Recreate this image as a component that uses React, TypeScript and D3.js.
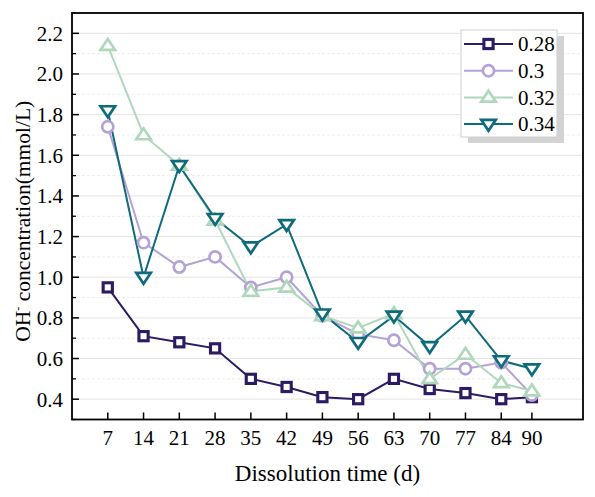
import React from 'react';
import * as d3 from 'd3';

// dissolution days
const days = [7, 14, 21, 28, 35, 42, 49, 56, 63, 70, 77, 84, 90];

const s028 = [0.95, 0.71, 0.68, 0.65, 0.5, 0.46, 0.41, 0.4, 0.5, 0.45, 0.43, 0.4, 0.41];
const s030 = [1.74, 1.17, 1.05, 1.1, 0.95, 1.0, 0.81, 0.72, 0.69, 0.55, 0.55, 0.58, 0.42];
const s032 = [2.14, 1.7, 1.55, 1.28, 0.93, 0.95, 0.81, 0.75, 0.82, 0.5, 0.62, 0.48, 0.44];
const s034 = [1.82, 1.0, 1.55, 1.29, 1.15, 1.26, 0.82, 0.68, 0.81, 0.66, 0.81, 0.59, 0.55];

const seriesNames = ['0.28', '0.3', '0.32', '0.34'];
const seriesColors = ['#2c1a62', '#b3a2d5', '#afd7bc', '#0f6a7c'];
const seriesShapes = ['square', 'circle', 'triangle', 'down'];
const yTicks = [0.4, 0.6, 0.8, 1.0, 1.2, 1.4, 1.6, 1.8, 2.0, 2.2];
const yMinor = [0.3, 0.5, 0.7, 0.9, 1.1, 1.3, 1.5, 1.7, 1.9, 2.1, 2.3];

const W = 595;
const H = 497;
const margin = { top: 13, right: 12, bottom: 77.5, left: 72 };
const serif = { fontFamily: "'Liberation Serif', 'Times New Roman', Times, serif" };

function Marker({ shape, x, y, color }) {
  const sw = 2.7;
  if (shape === 'square') {
    return <rect x={x - 4.6} y={y - 4.6} width={9.2} height={9.2} fill="#fff" stroke={color} strokeWidth={sw + 0.4} />;
  }
  if (shape === 'circle') {
    return <circle cx={x} cy={y} r={5.6} fill="#fff" stroke={color} strokeWidth={sw} />;
  }
  const s = 6.6;
  if (shape === 'triangle') {
    const p = `M${x},${y - s}L${x + s * 1.1},${y + s * 0.65}L${x - s * 1.1},${y + s * 0.65}Z`;
    return <path d={p} fill="#fff" stroke={color} strokeWidth={sw} strokeLinejoin="miter" />;
  }
  const p = `M${x},${y + s}L${x + s * 1.1},${y - s * 0.65}L${x - s * 1.1},${y - s * 0.65}Z`;
  return <path d={p} fill="#fff" stroke={color} strokeWidth={sw} strokeLinejoin="miter" />;
}

export default function App() {
  const iw = W - margin.left - margin.right;
  const ih = H - margin.top - margin.bottom;
  const x = d3.scaleLinear().domain([0, 100]).range([0, iw]);
  const y = d3.scaleLinear().domain([0.3, 2.3]).range([ih, 0]);
  const all = [s028, s030, s032, s034];
  const line = d3
    .line<number>()
    .x((_, i) => x(days[i]))
    .y((d) => y(d));

  // legend box
  const lx = 461 - margin.left;
  const ly = 30 - margin.top;
  const lw = 96;
  const lh = 107;

  return (
    <div style={{ position: 'absolute', left: 0, top: 0 }}>
      <svg width={W} height={H} style={{ display: 'block', background: '#fff', ...serif }}>
        <g transform={`translate(${margin.left},${margin.top})`}>
          {yMinor.map((t) => (
            <line key={'mg' + t} x1={0} x2={iw} y1={y(t)} y2={y(t)} stroke="#e9e9e9" strokeDasharray="3,2" strokeWidth={0.8} />
          ))}
          {yTicks.map((t) => (
            <line key={'g' + t} x1={0} x2={iw} y1={y(t)} y2={y(t)} stroke="#e4e4e4" strokeWidth={1} />
          ))}

          {all.map((s, k) => (
            <path key={'l' + k} d={line(s) || ''} fill="none" stroke={seriesColors[k]} strokeWidth={2} />
          ))}
          {all.map((s, k) =>
            s.map((v, i) => (
              <Marker key={`m${k}-${i}`} shape={seriesShapes[k]} x={x(days[i])} y={y(v)} color={seriesColors[k]} />
            )),
          )}

          {/* frame */}
          <rect x={0} y={0} width={iw} height={ih} fill="none" stroke="#000" strokeWidth={1.8} />

          {/* y ticks */}
          {yTicks.map((t) => (
            <g key={'yt' + t}>
              <line x1={0} x2={7} y1={y(t)} y2={y(t)} stroke="#000" strokeWidth={1.5} />
              <text x={-9} y={y(t)} dy="0.35em" textAnchor="end" style={serif} fontSize={21} fill="#000">
                {d3.format('.1f')(t)}
              </text>
            </g>
          ))}
          {yMinor.map((t) => (
            <line key={'ym' + t} x1={0} x2={4} y1={y(t)} y2={y(t)} stroke="#000" strokeWidth={1.3} />
          ))}

          {/* x ticks */}
          {days.map((d) => (
            <g key={'xt' + d}>
              <line x1={x(d)} x2={x(d)} y1={ih} y2={ih - 7} stroke="#000" strokeWidth={1.5} />
              <text x={x(d)} y={ih + 25.5} textAnchor="middle" style={serif} fontSize={21} fill="#000">
                {d}
              </text>
            </g>
          ))}

          {/* legend */}
          <rect x={lx + 7} y={ly + 6} width={lw} height={lh} fill="#d3d3d3" />
          <rect x={lx} y={ly} width={lw} height={lh} fill="#fff" stroke="#cfcfcf" strokeWidth={1} />
          {seriesNames.map((n, k) => {
            const cy = ly + 14 + k * 26.7;
            return (
              <g key={'lg' + n}>
                <line x1={lx + 3} x2={lx + 52} y1={cy} y2={cy} stroke={seriesColors[k]} strokeWidth={2} />
                <Marker shape={seriesShapes[k]} x={lx + 27.5} y={cy} color={seriesColors[k]} />
                <text x={lx + 57} y={cy} dy="0.35em" style={serif} fontSize={21} fill="#000">
                  {n}
                </text>
              </g>
            );
          })}
        </g>

        <text
          transform={`translate(30,${margin.top + ih / 2 + 5}) rotate(-90)`}
          textAnchor="middle"
          style={serif}
          fontSize={21.5}
          fill="#000"
        >
          OH
          <tspan fontSize={12} dy={-8}>-</tspan>
          <tspan dy={8}> concentration(mmol/L)</tspan>
        </text>
        <text x={margin.left + iw / 2} y={481} textAnchor="middle" style={serif} fontSize={23} fill="#000">
          Dissolution time (d)
        </text>
      </svg>
    </div>
  );
}
